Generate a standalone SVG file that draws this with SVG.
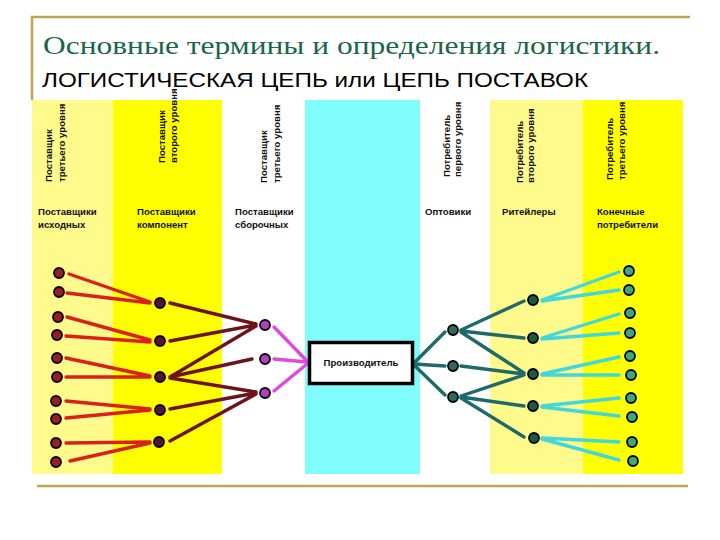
<svg xmlns="http://www.w3.org/2000/svg" width="720" height="540" viewBox="0 0 720 540">
<style>
.frame{stroke:#BFA550;stroke-width:2.5;fill:none}
.title{font-family:"Liberation Serif",serif;font-size:26px;fill:#1A664A}
.sub{font-family:"Liberation Sans",Arial,sans-serif;font-size:20px;fill:#000}
.lbl{font-family:"Liberation Sans",Arial,sans-serif;font-size:9.6px;font-weight:bold;fill:#111}
.red{stroke:#D8201C;stroke-width:3.4;stroke-linecap:round;fill:none}
.mar{stroke:#6E1418;stroke-width:3.4;stroke-linecap:round;fill:none}
.mag{stroke:#E048E0;stroke-width:3.4;stroke-linecap:round;fill:none}
.tea{stroke:#1E6A6A;stroke-width:3.4;stroke-linecap:round;fill:none}
.cya{stroke:#40D8DC;stroke-width:3.4;stroke-linecap:round;fill:none}
.d{stroke:#000;stroke-width:1.8}
.d1{fill:#9A1C24}.d2{fill:#5A1428}.d3{fill:#B040C0}.d4{fill:#2E6A5A}.d5{fill:#1E5A3A}.d6{fill:#40A878}
</style>
<rect width="720" height="540" fill="#fff"/>
<g id="frame">
<line class="frame" x1="31" y1="17" x2="690" y2="17"/>
<line class="frame" x1="32" y1="17" x2="32" y2="100"/>
<line class="frame" x1="37" y1="486" x2="688" y2="486"/>
</g>
<text class="title" x="43" y="54" textLength="617" lengthAdjust="spacingAndGlyphs">Основные термины и определения логистики.</text>
<text class="sub" x="42" y="87" textLength="546" lengthAdjust="spacingAndGlyphs">ЛОГИСТИЧЕСКАЯ ЦЕПЬ или ЦЕПЬ ПОСТАВОК</text>
<g id="columns">
<rect x="32" y="100" width="81" height="374" fill="#FFFA8C"/>
<rect x="113" y="100" width="109" height="374" fill="#FFFF00"/>
<rect x="305" y="100" width="115" height="374" fill="#80FCFC"/>
<rect x="490" y="100" width="93" height="374" fill="#FFFA8C"/>
<rect x="583" y="100" width="100" height="374" fill="#FFFF00"/>
</g>
<g id="headers">
<text class="lbl" transform="translate(52,182) rotate(-90)">Поставщик</text>
<text class="lbl" transform="translate(65,182) rotate(-90)">третьего уровня</text>
<text class="lbl" transform="translate(165,163) rotate(-90)">Поставщик</text>
<text class="lbl" transform="translate(177,163) rotate(-90)">второго уровня</text>
<text class="lbl" transform="translate(267,183) rotate(-90)">Поставщик</text>
<text class="lbl" transform="translate(280,183) rotate(-90)">третьего уровня</text>
<text class="lbl" transform="translate(450,177) rotate(-90)">Потребитель</text>
<text class="lbl" transform="translate(461,177) rotate(-90)">первого уровня</text>
<text class="lbl" transform="translate(523,183) rotate(-90)">Потребитель</text>
<text class="lbl" transform="translate(534,183) rotate(-90)">второго уровня</text>
<text class="lbl" transform="translate(613,180) rotate(-90)">Потребитель</text>
<text class="lbl" transform="translate(625,180) rotate(-90)">третьего уровня</text>
<text class="lbl" x="38" y="215">Поставщики</text>
<text class="lbl" x="38" y="228">исходных</text>
<text class="lbl" x="137" y="215">Поставщики</text>
<text class="lbl" x="137" y="228">компонент</text>
<text class="lbl" x="235" y="215">Поставщики</text>
<text class="lbl" x="235" y="228">сборочных</text>
<text class="lbl" x="425" y="215">Оптовики</text>
<text class="lbl" x="502" y="215">Ритейлеры</text>
<text class="lbl" x="597" y="215">Конечные</text>
<text class="lbl" x="597" y="228">потребители</text>
</g>
<g id="connectors">
<path class="red" d="M69,274 L150,302 M67,293 L150,303 M67,317 L150,340 M66,336 L150,342 M66,358 L150,376 M66,377 L150,377 M66,401 L150,409 M66,418 L150,410 M66,443 L150,442 M70,461 L150,443"/>
<path class="mar" d="M170,303 L256,324 M170,341 L256,325 M170,377 L256,326 M170,377 L252,359 M170,378 L256,392 M170,409 L256,393 M170,441 L256,394"/>
<path class="mag" d="M274,327 L307,361 M274,359 L307,362 M274,391 L307,364"/>
<path class="tea" d="M414,363 L445,332 M414,364 L445,366 M414,365 L445,395 M461,330 L524,301 M461,331 L524,338 M461,332 L524,373 M461,366 L524,374 M461,396 L524,375 M461,397 L524,406 M461,398 L524,437"/>
<path class="cya" d="M542,300 L619,272 M542,301 L619,290 M542,338 L619,314 M542,339 L619,333 M542,374 L619,357 M542,375 L619,375 M542,406 L619,398 M542,407 L619,416 M542,438 L619,442 M542,439 L619,460"/>
</g>
<g id="n-src" class="d d1">
<circle cx="59" cy="273" r="5"/><circle cx="59" cy="292" r="5"/><circle cx="58" cy="317" r="5"/><circle cx="57" cy="335" r="5"/><circle cx="57" cy="358" r="5"/><circle cx="57" cy="377" r="5"/><circle cx="56" cy="401" r="5"/><circle cx="56" cy="419" r="5"/><circle cx="56" cy="443" r="5"/><circle cx="56" cy="462" r="5"/>
</g>
<g id="n-comp" class="d d2">
<circle cx="160" cy="303" r="5"/><circle cx="160" cy="341" r="5"/><circle cx="160" cy="377" r="5"/><circle cx="160" cy="410" r="5"/><circle cx="159" cy="442" r="5"/>
</g>
<g id="n-asm" class="d d3">
<circle cx="265" cy="325" r="5"/><circle cx="265" cy="359" r="5"/><circle cx="265" cy="393" r="5"/>
</g>
<g id="producer">
<rect x="309.5" y="342.5" width="103" height="41" fill="#fff" stroke="#000" stroke-width="3.5"/>
<text x="361" y="366" text-anchor="middle" font-family="Liberation Sans,Arial,sans-serif" font-size="9.6" font-weight="bold" fill="#111">Производитель</text>
</g>
<g id="n-whole" class="d d4">
<circle cx="453" cy="330" r="5"/><circle cx="453" cy="366" r="5"/><circle cx="453" cy="397" r="5"/>
</g>
<g id="n-retail" class="d d5">
<circle cx="533" cy="300" r="5"/><circle cx="533" cy="338" r="5"/><circle cx="533" cy="374" r="5"/><circle cx="533" cy="406" r="5"/><circle cx="534" cy="438" r="5"/>
</g>
<g id="n-end" class="d d6">
<circle cx="629" cy="271" r="5"/><circle cx="629" cy="290" r="5"/><circle cx="630" cy="313" r="5"/><circle cx="630" cy="333" r="5"/><circle cx="630" cy="356" r="5"/><circle cx="631" cy="375" r="5"/><circle cx="631" cy="398" r="5"/><circle cx="632" cy="417" r="5"/><circle cx="632" cy="442" r="5"/><circle cx="633" cy="461" r="5"/>
</g>
</svg>
